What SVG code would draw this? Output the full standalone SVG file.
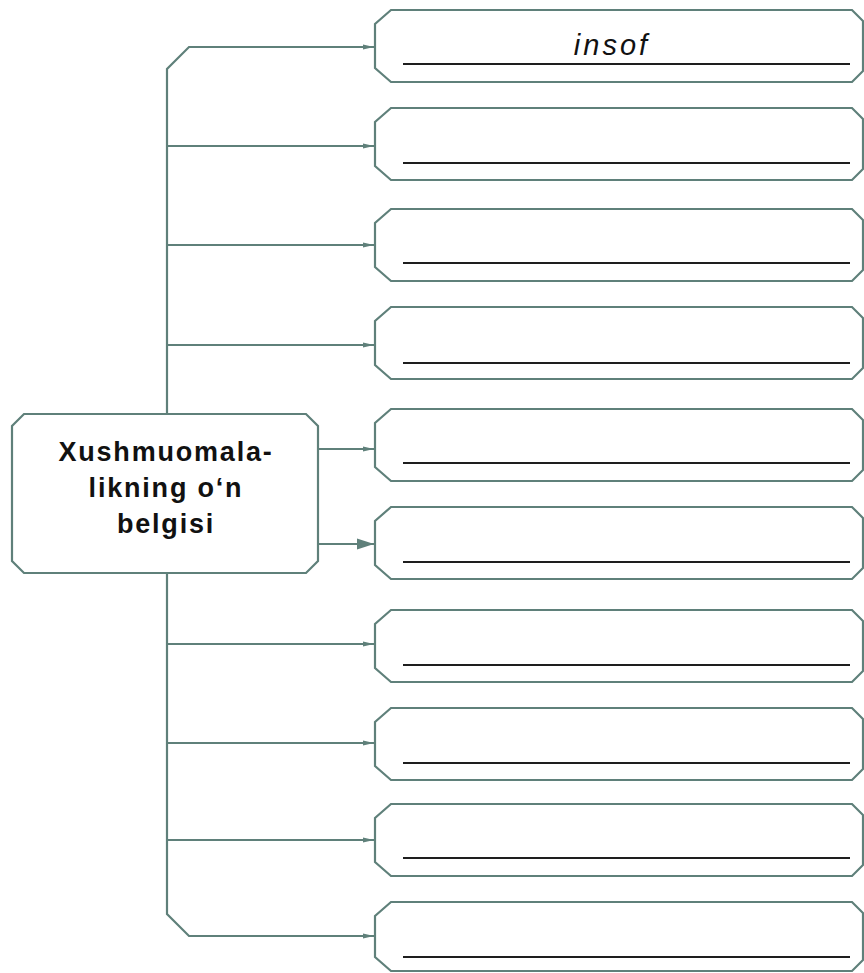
<svg xmlns="http://www.w3.org/2000/svg" width="864" height="973" viewBox="0 0 864 973">
<style>
.box{fill:#ffffff;stroke:#5f807a;stroke-width:2.2}
.con{fill:none;stroke:#5f807a;stroke-width:2.2}
.ul{stroke:#1e1e1e;stroke-width:2}
.lbl{font-family:"Liberation Sans",Arial,sans-serif;font-size:27px;font-weight:bold;fill:#111;text-anchor:middle;letter-spacing:1.8px}
.it{font-family:"Liberation Sans",Arial,sans-serif;font-size:29px;font-style:italic;fill:#111;text-anchor:middle;letter-spacing:3px}
</style>
<defs>
<marker id="ah" markerWidth="12" markerHeight="8" refX="11" refY="4" orient="auto" markerUnits="userSpaceOnUse">
<path d="M0,1.5 L11,4 L0,6.5 Z" fill="#5f807a"/>
</marker>
<marker id="ahb" markerWidth="18" markerHeight="12" refX="17" refY="6" orient="auto" markerUnits="userSpaceOnUse">
<path d="M0,0.5 L17,6 L0,11.5 Z" fill="#5f807a"/>
</marker>
</defs>
<rect width="864" height="973" fill="#ffffff"/>
<g id="connectors">
<path class="con" d="M167 414 V69 L189 47 H374" marker-end="url(#ah)"/>
<path class="con" d="M167 146 H374" marker-end="url(#ah)"/>
<path class="con" d="M167 245 H374" marker-end="url(#ah)"/>
<path class="con" d="M167 345 H374" marker-end="url(#ah)"/>
<path class="con" d="M318 449 H374" marker-end="url(#ah)"/>
<path class="con" d="M318 544 H374" marker-end="url(#ahb)"/>
<path class="con" d="M167 573 V914 L189 936 H374" marker-end="url(#ah)"/>
<path class="con" d="M167 644 H374" marker-end="url(#ah)"/>
<path class="con" d="M167 743 H374" marker-end="url(#ah)"/>
<path class="con" d="M167 840 H374" marker-end="url(#ah)"/>
</g>
<g id="center">
<path class="box" d="M24 414 H306 L318 426 V561 L306 573 H24 L12 561 V426 Z"/>
<text class="lbl" x="166" y="461">Xushmuomala-</text>
<text class="lbl" x="166" y="497">likning o‘n</text>
<text class="lbl" x="166" y="533">belgisi</text>
</g>
<g id="b1"><path class="box" d="M391 10 H852 L863 21 V71 L852 82 H391 L375 68 V24 Z"/><line class="ul" x1="403" y1="64" x2="850" y2="64"/><text class="it" x="612" y="55">insof</text></g>
<g id="b2"><path class="box" d="M391 108 H852 L863 119 V169 L852 180 H391 L375 166 V122 Z"/><line class="ul" x1="403" y1="163" x2="850" y2="163"/></g>
<g id="b3"><path class="box" d="M391 209 H852 L863 220 V270 L852 281 H391 L375 267 V223 Z"/><line class="ul" x1="403" y1="263" x2="850" y2="263"/></g>
<g id="b4"><path class="box" d="M391 307 H852 L863 318 V368 L852 379 H391 L375 365 V321 Z"/><line class="ul" x1="403" y1="363" x2="850" y2="363"/></g>
<g id="b5"><path class="box" d="M391 409 H852 L863 420 V470 L852 481 H391 L375 467 V423 Z"/><line class="ul" x1="403" y1="463" x2="850" y2="463"/></g>
<g id="b6"><path class="box" d="M391 507 H852 L863 518 V568 L852 579 H391 L375 565 V521 Z"/><line class="ul" x1="403" y1="562" x2="850" y2="562"/></g>
<g id="b7"><path class="box" d="M391 610 H852 L863 621 V671 L852 682 H391 L375 668 V624 Z"/><line class="ul" x1="403" y1="665" x2="850" y2="665"/></g>
<g id="b8"><path class="box" d="M391 708 H852 L863 719 V769 L852 780 H391 L375 766 V722 Z"/><line class="ul" x1="403" y1="763" x2="850" y2="763"/></g>
<g id="b9"><path class="box" d="M391 804 H852 L863 815 V865 L852 876 H391 L375 862 V818 Z"/><line class="ul" x1="403" y1="858" x2="850" y2="858"/></g>
<g id="b10"><path class="box" d="M391 902 H852 L863 913 V960 L852 971 H391 L375 957 V916 Z"/><line class="ul" x1="403" y1="957" x2="850" y2="957"/></g>
</svg>
